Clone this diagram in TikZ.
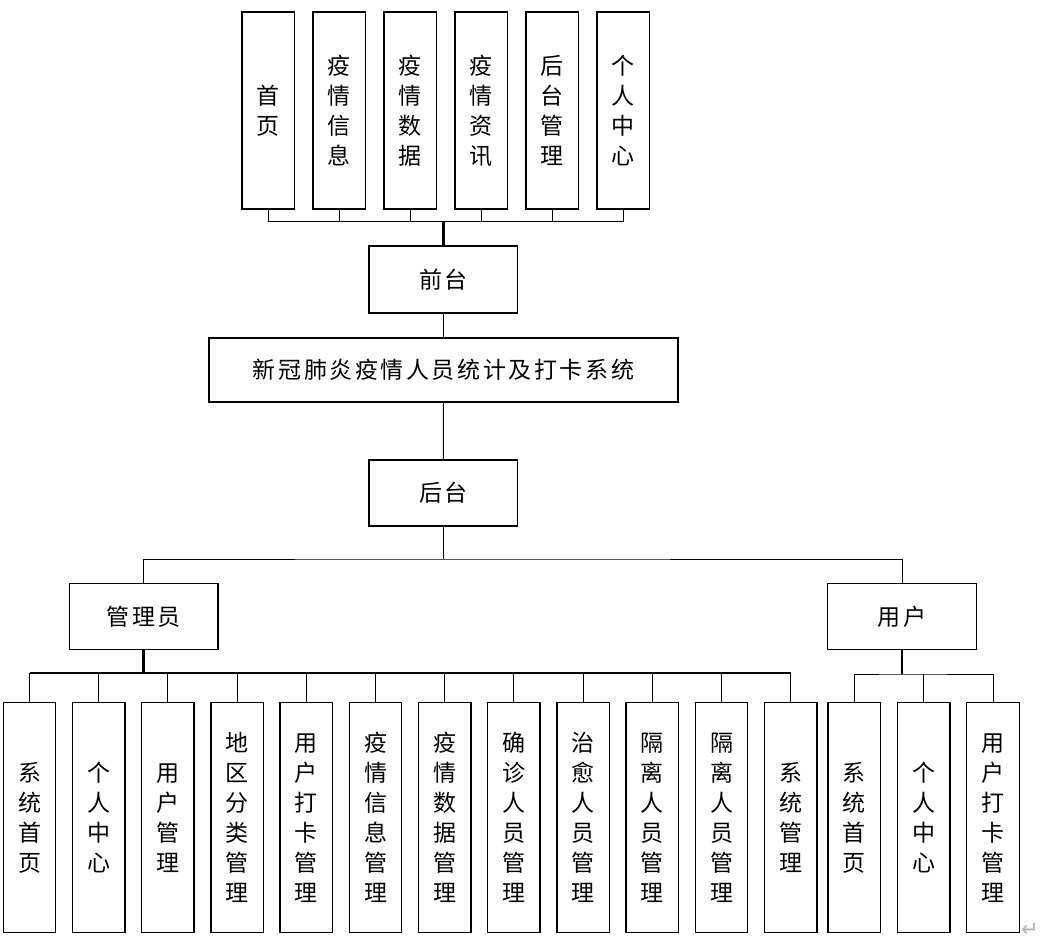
\documentclass[tikz,border=0pt]{standalone}
\usepackage{fontspec}
\setmainfont{Noto Sans CJK SC}
\newfontfamily\symfont{DejaVu Sans}
\newcommand\hg{\hspace{2.6pt}}
\begin{document}
\begin{tikzpicture}[x=1pt,y=-1pt,
  box/.style={draw, line width=1.4pt, inner sep=0pt, font=\fontsize{23}{30}\selectfont, align=center},
  vbox/.style={box, minimum width=52.5pt},
  topbox/.style={vbox, minimum height=197pt},
  botbox/.style={vbox, minimum height=230pt},
  hbox/.style={box, minimum width=148.5pt, minimum height=66pt},
  conn/.style={line width=1pt},
  thickconn/.style={line width=2.6pt}]
\useasboundingbox (0,0) rectangle (1041,947);
% top boxes
\node[topbox] (t1) at (268.2,110.5) {首\\页};
\node[topbox] (t2) at (339.2,110.5) {疫\\情\\信\\息};
\node[topbox] (t3) at (410.2,110.5) {疫\\情\\数\\据};
\node[topbox] (t4) at (481.2,110.5) {疫\\情\\资\\讯};
\node[topbox] (t5) at (552.2,110.5) {后\\台\\管\\理};
\node[topbox] (t6) at (623.2,110.5) {个\\人\\中\\心};
% middle
\node[hbox, minimum height=67pt] (fq) at (443.3,279.5) {前\hg 台};
\node[box, minimum width=469pt, minimum height=64pt] (sys) at (443.5,370) {新\hg 冠\hg 肺\hg 炎\hg 疫\hg 情\hg 人\hg 员\hg 统\hg 计\hg 及\hg 打\hg 卡\hg 系\hg 统};
\node[hbox] (ht) at (443.3,493) {后\hg 台};
\node[hbox] (adm) at (143.6,616.7) {管\hg 理\hg 员};
\node[hbox] (usr) at (902,616.7) {用\hg 户};
% bottom admin boxes
\node[botbox] (a1) at (29.5,817.7) {系\\统\\首\\页};
\node[botbox] (a2) at (98.7,817.7) {个\\人\\中\\心};
\node[botbox] (a3) at (167.9,817.7) {用\\户\\管\\理};
\node[botbox] (a4) at (237.1,817.7) {地\\区\\分\\类\\管\\理};
\node[botbox] (a5) at (306.3,817.7) {用\\户\\打\\卡\\管\\理};
\node[botbox] (a6) at (375.5,817.7) {疫\\情\\信\\息\\管\\理};
\node[botbox] (a7) at (444.7,817.7) {疫\\情\\数\\据\\管\\理};
\node[botbox] (a8) at (513.9,817.7) {确\\诊\\人\\员\\管\\理};
\node[botbox] (a9) at (583.1,817.7) {治\\愈\\人\\员\\管\\理};
\node[botbox] (a10) at (652.3,817.7) {隔\\离\\人\\员\\管\\理};
\node[botbox] (a11) at (721.5,817.7) {隔\\离\\人\\员\\管\\理};
\node[botbox] (a12) at (790.7,817.7) {系\\统\\管\\理};
% bottom user boxes
\node[botbox] (u1) at (854.3,817.7) {系\\统\\首\\页};
\node[botbox] (u2) at (923.7,817.7) {个\\人\\中\\心};
\node[botbox] (u3) at (993,817.7) {用\\户\\打\\卡\\管\\理};
% paragraph mark
\node[text=gray!60, font=\symfont\fontsize{21}{21}\selectfont, inner sep=0pt] (pm) at (1030,930) {↵};
% connectors top
\coordinate (tb) at (443.3,221.7);
\foreach \i in {1,...,6} \draw[conn] (t\i.south) |- (tb);
\draw[thickconn] (tb) -- (fq.north);
\draw[conn] (fq.south) -- (fq.south |- sys.north);
\draw[conn] (sys.south) -- (ht.north);
\coordinate (mb) at (443.3,559);
\draw[conn] (ht.south) -- (mb);
\draw[conn] (adm.north) |- (mb) -| (usr.north);
% admin bar
\coordinate (ab) at (143.6,673);
\draw[thickconn] (adm.south) -- (ab);
\draw[line width=1.6pt] (a1.north |- ab) -- (a12.north |- ab);
\foreach \i in {1,...,12} \draw[conn] (a\i.north) -- (a\i.north |- ab);
% user bar
\coordinate (ub) at (902,674);
\draw[thickconn] (usr.south) -- (ub);
\draw[conn] (u1.north) |- (ub) -| (u3.north);
\draw[conn] (u2.north) -- (u2.north |- ub);
\end{tikzpicture}
\end{document}
